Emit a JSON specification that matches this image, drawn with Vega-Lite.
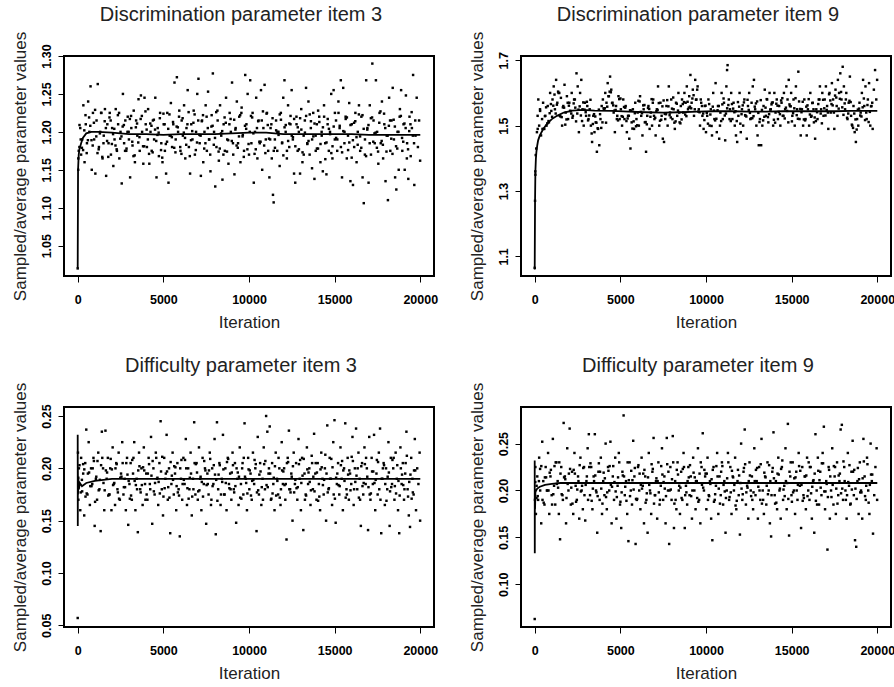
{
"$schema": "https://vega.github.io/schema/vega-lite/v6.json",
"padding": {"left": 9, "top": 4, "right": 0, "bottom": 0},
"background": "white",
"datasets": {
"p1": [
{"x":0,"y":1.02},{"x":30,"y":1.15},{"x":60,"y":1.175},{"x":100,"y":1.18},{"x":150,"y":1.205},{"x":200,"y":1.17},{"x":260,"y":1.19},{"x":330,"y":1.235},{"x":400,"y":1.16},{"x":470,"y":1.21},{"x":540,"y":1.185},{"x":610,"y":1.24},{"x":680,"y":1.2},{"x":750,"y":1.26},{"x":820,"y":1.15},{"x":890,"y":1.225},{"x":960,"y":1.19},
{"x":1030,"y":1.145},{"x":1100,"y":1.215},{"x":1170,"y":1.263},{"x":1240,"y":1.18},{"x":1310,"y":1.2},{"x":1380,"y":1.225},{"x":1450,"y":1.165},{"x":1520,"y":1.195},{"x":1590,"y":1.23},{"x":1660,"y":1.142},{"x":1730,"y":1.21},{"x":1800,"y":1.185},{"x":1870,"y":1.225},{"x":1940,"y":1.17},
{"x":2010,"y":1.205},{"x":2080,"y":1.155},{"x":2150,"y":1.19},{"x":2220,"y":1.23},{"x":2290,"y":1.175},{"x":2360,"y":1.21},{"x":2430,"y":1.165},{"x":2500,"y":1.2},{"x":2570,"y":1.132},{"x":2640,"y":1.25},{"x":2710,"y":1.185},{"x":2780,"y":1.215},{"x":2850,"y":1.178},{"x":2920,"y":1.22},{"x":2990,"y":1.19},
{"x":3060,"y":1.14},{"x":3130,"y":1.205},{"x":3200,"y":1.182},{"x":3270,"y":1.228},{"x":3340,"y":1.16},{"x":3410,"y":1.215},{"x":3480,"y":1.195},{"x":3550,"y":1.243},{"x":3620,"y":1.175},{"x":3690,"y":1.248},{"x":3760,"y":1.2},{"x":3830,"y":1.158},{"x":3900,"y":1.245},{"x":3970,"y":1.21},
{"x":4040,"y":1.18},{"x":4110,"y":1.23},{"x":4180,"y":1.158},{"x":4250,"y":1.2},{"x":4320,"y":1.175},{"x":4390,"y":1.215},{"x":4460,"y":1.19},{"x":4530,"y":1.245},{"x":4600,"y":1.14},{"x":4670,"y":1.205},{"x":4740,"y":1.168},{"x":4810,"y":1.225},{"x":4880,"y":1.185},{"x":4950,"y":1.16},
{"x":5020,"y":1.21},{"x":5090,"y":1.175},{"x":5160,"y":1.145},{"x":5230,"y":1.225},{"x":5300,"y":1.133},{"x":5370,"y":1.195},{"x":5440,"y":1.238},{"x":5510,"y":1.18},{"x":5580,"y":1.21},{"x":5650,"y":1.265},{"x":5720,"y":1.19},{"x":5790,"y":1.272},{"x":5860,"y":1.2},{"x":5930,"y":1.228},
{"x":6000,"y":1.175},{"x":6070,"y":1.215},{"x":6140,"y":1.195},{"x":6210,"y":1.235},{"x":6280,"y":1.165},{"x":6350,"y":1.205},{"x":6420,"y":1.255},{"x":6490,"y":1.18},{"x":6560,"y":1.145},{"x":6630,"y":1.21},{"x":6700,"y":1.19},{"x":6770,"y":1.228},{"x":6840,"y":1.17},{"x":6910,"y":1.2},{"x":6980,"y":1.25},
{"x":7050,"y":1.27},{"x":7120,"y":1.185},{"x":7190,"y":1.142},{"x":7260,"y":1.215},{"x":7330,"y":1.16},{"x":7400,"y":1.2},{"x":7470,"y":1.235},{"x":7540,"y":1.175},{"x":7610,"y":1.253},{"x":7680,"y":1.19},{"x":7750,"y":1.148},{"x":7820,"y":1.222},{"x":7890,"y":1.277},{"x":7960,"y":1.2},
{"x":8030,"y":1.128},{"x":8100,"y":1.18},{"x":8170,"y":1.215},{"x":8240,"y":1.162},{"x":8310,"y":1.235},{"x":8380,"y":1.195},{"x":8450,"y":1.137},{"x":8520,"y":1.21},{"x":8590,"y":1.175},{"x":8660,"y":1.245},{"x":8730,"y":1.19},{"x":8800,"y":1.158},{"x":8870,"y":1.225},{"x":8940,"y":1.2},
{"x":9010,"y":1.265},{"x":9080,"y":1.17},{"x":9150,"y":1.144},{"x":9220,"y":1.205},{"x":9290,"y":1.24},{"x":9360,"y":1.185},{"x":9430,"y":1.22},{"x":9500,"y":1.16},{"x":9570,"y":1.232},{"x":9640,"y":1.196},{"x":9710,"y":1.175},{"x":9780,"y":1.275},{"x":9850,"y":1.21},{"x":9920,"y":1.25},
{"x":10000,"y":1.17},{"x":10070,"y":1.268},{"x":10140,"y":1.185},{"x":10210,"y":1.225},{"x":10280,"y":1.133},{"x":10350,"y":1.2},{"x":10420,"y":1.245},{"x":10490,"y":1.165},{"x":10560,"y":1.215},{"x":10630,"y":1.185},{"x":10700,"y":1.255},{"x":10770,"y":1.15},{"x":10840,"y":1.205},{"x":10910,"y":1.262},{"x":10980,"y":1.19},
{"x":11050,"y":1.225},{"x":11120,"y":1.175},{"x":11190,"y":1.14},{"x":11260,"y":1.205},{"x":11330,"y":1.165},{"x":11400,"y":1.117},{"x":11440,"y":1.107},{"x":11510,"y":1.19},{"x":11580,"y":1.215},{"x":11650,"y":1.175},{"x":11720,"y":1.2},{"x":11790,"y":1.155},{"x":11860,"y":1.225},{"x":11930,"y":1.185},
{"x":12000,"y":1.245},{"x":12070,"y":1.268},{"x":12140,"y":1.2},{"x":12210,"y":1.165},{"x":12280,"y":1.235},{"x":12350,"y":1.18},{"x":12420,"y":1.21},{"x":12490,"y":1.255},{"x":12560,"y":1.19},{"x":12630,"y":1.145},{"x":12700,"y":1.133},{"x":12770,"y":1.22},{"x":12840,"y":1.175},{"x":12910,"y":1.2},{"x":12980,"y":1.145},
{"x":13050,"y":1.23},{"x":13120,"y":1.16},{"x":13190,"y":1.195},{"x":13260,"y":1.215},{"x":13330,"y":1.258},{"x":13400,"y":1.185},{"x":13470,"y":1.24},{"x":13540,"y":1.17},{"x":13610,"y":1.205},{"x":13680,"y":1.152},{"x":13750,"y":1.225},{"x":13820,"y":1.138},{"x":13890,"y":1.195},{"x":13960,"y":1.21},
{"x":14030,"y":1.178},{"x":14100,"y":1.22},{"x":14170,"y":1.16},{"x":14240,"y":1.2},{"x":14310,"y":1.148},{"x":14380,"y":1.235},{"x":14450,"y":1.185},{"x":14520,"y":1.144},{"x":14590,"y":1.21},{"x":14660,"y":1.175},{"x":14730,"y":1.2},{"x":14800,"y":1.25},{"x":14870,"y":1.165},{"x":14940,"y":1.255},
{"x":15010,"y":1.19},{"x":15080,"y":1.215},{"x":15150,"y":1.175},{"x":15220,"y":1.24},{"x":15290,"y":1.205},{"x":15360,"y":1.268},{"x":15430,"y":1.14},{"x":15500,"y":1.258},{"x":15570,"y":1.185},{"x":15640,"y":1.22},{"x":15710,"y":1.165},{"x":15780,"y":1.195},{"x":15850,"y":1.238},{"x":15920,"y":1.135},
{"x":16000,"y":1.21},{"x":16070,"y":1.13},{"x":16140,"y":1.18},{"x":16210,"y":1.225},{"x":16280,"y":1.16},{"x":16350,"y":1.2},{"x":16420,"y":1.235},{"x":16490,"y":1.175},{"x":16560,"y":1.22},{"x":16630,"y":1.14},{"x":16700,"y":1.106},{"x":16770,"y":1.19},{"x":16840,"y":1.268},{"x":16910,"y":1.205},{"x":16980,"y":1.133},
{"x":17050,"y":1.235},{"x":17120,"y":1.17},{"x":17200,"y":1.29},{"x":17270,"y":1.215},{"x":17340,"y":1.185},{"x":17410,"y":1.268},{"x":17480,"y":1.2},{"x":17550,"y":1.158},{"x":17620,"y":1.225},{"x":17690,"y":1.185},{"x":17760,"y":1.24},{"x":17830,"y":1.165},{"x":17900,"y":1.21},{"x":17970,"y":1.135},
{"x":18040,"y":1.195},{"x":18110,"y":1.11},{"x":18180,"y":1.245},{"x":18250,"y":1.175},{"x":18320,"y":1.215},{"x":18390,"y":1.258},{"x":18460,"y":1.19},{"x":18530,"y":1.14},{"x":18600,"y":1.124},{"x":18670,"y":1.2},{"x":18740,"y":1.15},{"x":18810,"y":1.23},{"x":18880,"y":1.255},{"x":18950,"y":1.175},
{"x":19020,"y":1.21},{"x":19090,"y":1.15},{"x":19160,"y":1.248},{"x":19230,"y":1.185},{"x":19300,"y":1.138},{"x":19370,"y":1.22},{"x":19440,"y":1.168},{"x":19510,"y":1.205},{"x":19580,"y":1.275},{"x":19650,"y":1.13},{"x":19720,"y":1.195},{"x":19790,"y":1.245},{"x":19860,"y":1.18},{"x":19930,"y":1.215},{"x":19990,"y":1.162},
{"x":105,"y":1.209},{"x":245,"y":1.179},{"x":385,"y":1.202},{"x":525,"y":1.172},{"x":665,"y":1.219},{"x":805,"y":1.189},{"x":945,"y":1.212},{"x":1085,"y":1.194},{"x":1225,"y":1.177},{"x":1365,"y":1.225},{"x":1505,"y":1.185},{"x":1645,"y":1.205},{"x":1785,"y":1.167},{"x":1925,"y":1.215},{"x":2065,"y":1.197},{"x":2205,"y":1.182},{"x":2345,"y":1.222},{"x":2485,"y":1.191},{"x":2625,"y":1.207},{"x":2765,"y":1.175},{"x":2905,"y":1.2},{"x":3045,"y":1.217},{"x":3185,"y":1.187},{"x":3325,"y":1.169},{"x":3465,"y":1.211},{"x":3605,"y":1.193},{"x":3745,"y":1.221},{"x":3885,"y":1.181},{"x":4025,"y":1.203},{"x":4165,"y":1.171},{"x":4305,"y":1.208},{"x":4445,"y":1.216},{"x":4585,"y":1.188},{"x":4725,"y":1.199},{"x":4865,"y":1.176},{"x":5005,"y":1.224},{"x":5145,"y":1.184},{"x":5285,"y":1.204},{"x":5425,"y":1.195},{"x":5565,"y":1.213},{"x":5705,"y":1.173},{"x":5845,"y":1.206},{"x":5985,"y":1.18},{"x":6125,"y":1.218},{"x":6265,"y":1.192},{"x":6405,"y":1.21},{"x":6545,"y":1.168},{"x":6685,"y":1.201},{"x":6825,"y":1.223},{"x":6965,"y":1.186},{"x":7105,"y":1.196},{"x":7245,"y":1.214},{"x":7385,"y":1.178},{"x":7525,"y":1.22},{"x":7665,"y":1.19},{"x":7805,"y":1.207},{"x":7945,"y":1.183},{"x":8085,"y":1.226},{"x":8225,"y":1.174},{"x":8365,"y":1.198},{"x":8505,"y":1.17},{"x":8645,"y":1.212},{"x":8785,"y":1.189},{"x":8925,"y":1.217},{"x":9065,"y":1.185},{"x":9205,"y":1.203},{"x":9345,"y":1.179},{"x":9485,"y":1.222},{"x":9625,"y":1.194},{"x":9765,"y":1.208},{"x":9905,"y":1.177},{"x":10045,"y":1.2},{"x":10185,"y":1.219},{"x":10325,"y":1.171},{"x":10465,"y":1.205},{"x":10605,"y":1.187},{"x":10745,"y":1.215},{"x":10885,"y":1.182},{"x":11025,"y":1.224},{"x":11165,"y":1.191},{"x":11305,"y":1.21},{"x":11445,"y":1.175},{"x":11585,"y":1.202},{"x":11725,"y":1.196},{"x":11865,"y":1.216},{"x":12005,"y":1.169},{"x":12145,"y":1.209},{"x":12285,"y":1.188},{"x":12425,"y":1.221},{"x":12565,"y":1.193},{"x":12705,"y":1.181},{"x":12845,"y":1.206},{"x":12985,"y":1.218},{"x":13125,"y":1.173},{"x":13265,"y":1.199},{"x":13405,"y":1.184},{"x":13545,"y":1.223},{"x":13685,"y":1.19},{"x":13825,"y":1.211},{"x":13965,"y":1.178},{"x":14105,"y":1.213},{"x":14245,"y":1.195},{"x":14385,"y":1.22},{"x":14525,"y":1.186},{"x":14665,"y":1.204},{"x":14805,"y":1.172},{"x":14945,"y":1.207},{"x":15085,"y":1.192},{"x":15225,"y":1.225},{"x":15365,"y":1.18},{"x":15505,"y":1.201},{"x":15645,"y":1.217},{"x":15785,"y":1.176},{"x":15925,"y":1.209},{"x":16065,"y":1.189},{"x":16205,"y":1.214},{"x":16345,"y":1.183},{"x":16485,"y":1.194},{"x":16625,"y":1.222},{"x":16765,"y":1.17},{"x":16905,"y":1.203},{"x":17045,"y":1.185},{"x":17185,"y":1.219},{"x":17325,"y":1.198},{"x":17465,"y":1.179},{"x":17605,"y":1.212},{"x":17745,"y":1.188},{"x":17885,"y":1.224},{"x":18025,"y":1.174},{"x":18165,"y":1.208},{"x":18305,"y":1.191},{"x":18445,"y":1.216},{"x":18585,"y":1.181},{"x":18725,"y":1.2},{"x":18865,"y":1.221},{"x":19005,"y":1.187},{"x":19145,"y":1.205},{"x":19285,"y":1.177},{"x":19425,"y":1.21},{"x":19565,"y":1.195},{"x":19705,"y":1.215},
{"x":35,"y":1.165},{"x":175,"y":1.19},{"x":315,"y":1.176},{"x":455,"y":1.222},{"x":595,"y":1.189},{"x":735,"y":1.208},{"x":875,"y":1.182},{"x":1015,"y":1.229},{"x":1155,"y":1.172},{"x":1295,"y":1.198},{"x":1435,"y":1.167},{"x":1575,"y":1.214},{"x":1715,"y":1.188},{"x":1855,"y":1.219},{"x":1995,"y":1.184},{"x":2135,"y":1.204},{"x":2275,"y":1.177},{"x":2415,"y":1.225},{"x":2555,"y":1.194},{"x":2695,"y":1.209},{"x":2835,"y":1.175},{"x":2975,"y":1.2},{"x":3115,"y":1.221},{"x":3255,"y":1.168},{"x":3395,"y":1.206},{"x":3535,"y":1.186},{"x":3675,"y":1.217},{"x":3815,"y":1.181},{"x":3955,"y":1.227},{"x":4095,"y":1.19},{"x":4235,"y":1.211},{"x":4375,"y":1.173},{"x":4515,"y":1.203},{"x":4655,"y":1.196},{"x":4795,"y":1.218},{"x":4935,"y":1.166},{"x":5075,"y":1.21},{"x":5215,"y":1.187},{"x":5355,"y":1.223},{"x":5495,"y":1.193},{"x":5635,"y":1.179},{"x":5775,"y":1.207},{"x":5915,"y":1.22},{"x":6055,"y":1.171},{"x":6195,"y":1.199},{"x":6335,"y":1.183},{"x":6475,"y":1.226},{"x":6615,"y":1.189},{"x":6755,"y":1.212},{"x":6895,"y":1.176},{"x":7035,"y":1.215},{"x":7175,"y":1.195},{"x":7315,"y":1.222},{"x":7455,"y":1.185},{"x":7595,"y":1.205},{"x":7735,"y":1.17},{"x":7875,"y":1.208},{"x":8015,"y":1.192},{"x":8155,"y":1.228},{"x":8295,"y":1.178},{"x":8435,"y":1.201},{"x":8575,"y":1.219},{"x":8715,"y":1.174},{"x":8855,"y":1.21},{"x":8995,"y":1.188},{"x":9135,"y":1.216},{"x":9275,"y":1.182},{"x":9415,"y":1.194},{"x":9555,"y":1.225},{"x":9695,"y":1.167},{"x":9835,"y":1.204},{"x":9975,"y":1.184},{"x":10115,"y":1.221},{"x":10255,"y":1.198},{"x":10395,"y":1.177},{"x":10535,"y":1.214},{"x":10675,"y":1.187},{"x":10815,"y":1.227},{"x":10955,"y":1.172},{"x":11095,"y":1.209},{"x":11235,"y":1.19},{"x":11375,"y":1.218},{"x":11515,"y":1.179},{"x":11655,"y":1.2},{"x":11795,"y":1.223},{"x":11935,"y":1.186},{"x":12075,"y":1.206},{"x":12215,"y":1.175},{"x":12355,"y":1.211},{"x":12495,"y":1.195},{"x":12635,"y":1.217},{"x":12775,"y":1.21},{"x":12915,"y":1.177},{"x":13055,"y":1.203},{"x":13195,"y":1.17},{"x":13335,"y":1.221},{"x":13475,"y":1.188},{"x":13615,"y":1.214},{"x":13755,"y":1.194},{"x":13895,"y":1.175},{"x":14035,"y":1.228},{"x":14175,"y":1.184},{"x":14315,"y":1.206},{"x":14455,"y":1.164},{"x":14595,"y":1.217},{"x":14735,"y":1.197},{"x":14875,"y":1.181},{"x":15015,"y":1.225},{"x":15155,"y":1.19},{"x":15295,"y":1.208},{"x":15435,"y":1.173},{"x":15575,"y":1.2},{"x":15715,"y":1.219},{"x":15855,"y":1.186},{"x":15995,"y":1.166},{"x":16135,"y":1.212},{"x":16275,"y":1.193},{"x":16415,"y":1.223},{"x":16555,"y":1.179},{"x":16695,"y":1.204},{"x":16835,"y":1.168},{"x":16975,"y":1.209},{"x":17115,"y":1.218},{"x":17255,"y":1.187},{"x":17395,"y":1.199},{"x":17535,"y":1.174},{"x":17675,"y":1.227},{"x":17815,"y":1.183},{"x":17955,"y":1.205},{"x":18095,"y":1.195},{"x":18235,"y":1.215},{"x":18375,"y":1.171},{"x":18515,"y":1.207},{"x":18655,"y":1.178},{"x":18795,"y":1.22},{"x":18935,"y":1.192},{"x":19075,"y":1.211},{"x":19215,"y":1.165},{"x":19355,"y":1.201},{"x":19495,"y":1.226},{"x":19635,"y":1.185}
],
"p2": [
{"x":0,"y":1.065},{"x":20,"y":1.27},{"x":40,"y":1.35},{"x":60,"y":1.41},{"x":90,"y":1.43},{"x":130,"y":1.48},{"x":170,"y":1.53},{"x":210,"y":1.58},{"x":260,"y":1.5},{"x":310,"y":1.55},{"x":370,"y":1.47},{"x":430,"y":1.52},{"x":490,"y":1.57},{"x":560,"y":1.49},{"x":620,"y":1.53},{"x":690,"y":1.5},{"x":760,"y":1.56},{"x":830,"y":1.51},{"x":900,"y":1.6},{"x":970,"y":1.545},
{"x":1040,"y":1.58},{"x":1110,"y":1.62},{"x":1180,"y":1.55},{"x":1250,"y":1.64},{"x":1320,"y":1.57},{"x":1390,"y":1.6},{"x":1460,"y":1.53},{"x":1530,"y":1.585},{"x":1600,"y":1.5},{"x":1670,"y":1.56},{"x":1740,"y":1.625},{"x":1810,"y":1.54},{"x":1880,"y":1.59},{"x":1950,"y":1.52},
{"x":2020,"y":1.57},{"x":2090,"y":1.545},{"x":2160,"y":1.6},{"x":2230,"y":1.53},{"x":2300,"y":1.58},{"x":2370,"y":1.555},{"x":2440,"y":1.66},{"x":2510,"y":1.62},{"x":2580,"y":1.48},{"x":2650,"y":1.6},{"x":2720,"y":1.64},{"x":2790,"y":1.55},{"x":2860,"y":1.5},{"x":2930,"y":1.57},
{"x":3000,"y":1.53},{"x":3070,"y":1.56},{"x":3140,"y":1.52},{"x":3210,"y":1.55},{"x":3280,"y":1.5},{"x":3350,"y":1.45},{"x":3420,"y":1.53},{"x":3490,"y":1.48},{"x":3560,"y":1.51},{"x":3630,"y":1.42},{"x":3700,"y":1.49},{"x":3770,"y":1.44},{"x":3840,"y":1.52},{"x":3910,"y":1.56},
{"x":3980,"y":1.58},{"x":4050,"y":1.55},{"x":4120,"y":1.6},{"x":4190,"y":1.57},{"x":4260,"y":1.63},{"x":4330,"y":1.59},{"x":4400,"y":1.65},{"x":4470,"y":1.61},{"x":4540,"y":1.57},{"x":4610,"y":1.54},{"x":4680,"y":1.48},{"x":4750,"y":1.56},{"x":4820,"y":1.53},{"x":4890,"y":1.59},
{"x":4960,"y":1.52},{"x":5030,"y":1.55},{"x":5100,"y":1.5},{"x":5170,"y":1.58},{"x":5240,"y":1.52},{"x":5310,"y":1.56},{"x":5380,"y":1.48},{"x":5450,"y":1.53},{"x":5520,"y":1.46},{"x":5590,"y":1.43},{"x":5660,"y":1.51},{"x":5730,"y":1.55},{"x":5800,"y":1.49},{"x":5870,"y":1.57},
{"x":5940,"y":1.52},{"x":6010,"y":1.54},{"x":6080,"y":1.5},{"x":6150,"y":1.59},{"x":6220,"y":1.53},{"x":6290,"y":1.47},{"x":6360,"y":1.55},{"x":6430,"y":1.51},{"x":6500,"y":1.42},{"x":6570,"y":1.53},{"x":6640,"y":1.56},{"x":6710,"y":1.49},{"x":6780,"y":1.54},{"x":6850,"y":1.5},
{"x":6920,"y":1.58},{"x":6990,"y":1.52},{"x":7060,"y":1.47},{"x":7130,"y":1.55},{"x":7200,"y":1.62},{"x":7270,"y":1.5},{"x":7340,"y":1.57},{"x":7410,"y":1.53},{"x":7480,"y":1.46},{"x":7550,"y":1.45},{"x":7620,"y":1.52},{"x":7690,"y":1.56},{"x":7760,"y":1.5},{"x":7830,"y":1.62},
{"x":7900,"y":1.54},{"x":7970,"y":1.58},{"x":8040,"y":1.52},{"x":8110,"y":1.55},{"x":8180,"y":1.49},{"x":8250,"y":1.57},{"x":8320,"y":1.53},{"x":8390,"y":1.6},{"x":8460,"y":1.51},{"x":8530,"y":1.56},{"x":8600,"y":1.58},{"x":8670,"y":1.54},{"x":8740,"y":1.6},{"x":8810,"y":1.57},
{"x":8880,"y":1.62},{"x":8950,"y":1.55},{"x":9020,"y":1.59},{"x":9090,"y":1.655},{"x":9160,"y":1.57},{"x":9230,"y":1.61},{"x":9300,"y":1.53},{"x":9370,"y":1.64},{"x":9440,"y":1.58},{"x":9510,"y":1.62},{"x":9580,"y":1.55},{"x":9650,"y":1.5},{"x":9720,"y":1.57},{"x":9790,"y":1.53},
{"x":9860,"y":1.49},{"x":9930,"y":1.56},{"x":10000,"y":1.48},{"x":10070,"y":1.53},{"x":10140,"y":1.58},{"x":10210,"y":1.5},{"x":10280,"y":1.55},{"x":10350,"y":1.47},{"x":10420,"y":1.6},{"x":10490,"y":1.52},{"x":10560,"y":1.63},{"x":10630,"y":1.48},{"x":10700,"y":1.56},{"x":10770,"y":1.46},
{"x":10840,"y":1.54},{"x":10910,"y":1.6},{"x":10980,"y":1.52},{"x":11050,"y":1.57},{"x":11120,"y":1.455},{"x":11190,"y":1.62},{"x":11230,"y":1.67},{"x":11260,"y":1.685},{"x":11330,"y":1.58},{"x":11400,"y":1.55},{"x":11470,"y":1.6},{"x":11540,"y":1.52},{"x":11610,"y":1.57},{"x":11680,"y":1.5},
{"x":11750,"y":1.47},{"x":11820,"y":1.45},{"x":11890,"y":1.53},{"x":11960,"y":1.6},{"x":12030,"y":1.48},{"x":12100,"y":1.55},{"x":12170,"y":1.5},{"x":12240,"y":1.58},{"x":12310,"y":1.53},{"x":12380,"y":1.46},{"x":12450,"y":1.56},{"x":12520,"y":1.6},{"x":12590,"y":1.52},{"x":12660,"y":1.57},
{"x":12730,"y":1.62},{"x":12800,"y":1.64},{"x":12870,"y":1.55},{"x":12940,"y":1.5},{"x":13010,"y":1.47},{"x":13080,"y":1.44},{"x":13150,"y":1.52},{"x":13220,"y":1.44},{"x":13290,"y":1.5},{"x":13360,"y":1.56},{"x":13430,"y":1.61},{"x":13500,"y":1.53},{"x":13570,"y":1.58},{"x":13640,"y":1.51},
{"x":13710,"y":1.6},{"x":13780,"y":1.55},{"x":13850,"y":1.57},{"x":13920,"y":1.5},{"x":13990,"y":1.6},{"x":14060,"y":1.54},{"x":14130,"y":1.58},{"x":14200,"y":1.52},{"x":14270,"y":1.56},{"x":14340,"y":1.5},{"x":14410,"y":1.57},{"x":14480,"y":1.53},{"x":14550,"y":1.6},{"x":14620,"y":1.55},
{"x":14690,"y":1.62},{"x":14760,"y":1.58},{"x":14830,"y":1.64},{"x":14900,"y":1.56},{"x":14970,"y":1.6},{"x":15040,"y":1.53},{"x":15110,"y":1.58},{"x":15180,"y":1.5},{"x":15250,"y":1.62},{"x":15320,"y":1.55},{"x":15390,"y":1.665},{"x":15460,"y":1.52},{"x":15530,"y":1.47},{"x":15600,"y":1.55},
{"x":15670,"y":1.5},{"x":15740,"y":1.58},{"x":15810,"y":1.52},{"x":15880,"y":1.47},{"x":15950,"y":1.55},{"x":16020,"y":1.5},{"x":16090,"y":1.6},{"x":16160,"y":1.53},{"x":16230,"y":1.57},{"x":16300,"y":1.51},{"x":16370,"y":1.46},{"x":16440,"y":1.55},{"x":16510,"y":1.52},{"x":16580,"y":1.58},
{"x":16650,"y":1.62},{"x":16720,"y":1.55},{"x":16790,"y":1.6},{"x":16860,"y":1.53},{"x":16930,"y":1.58},{"x":17000,"y":1.62},{"x":17070,"y":1.56},{"x":17140,"y":1.49},{"x":17210,"y":1.6},{"x":17280,"y":1.54},{"x":17350,"y":1.63},{"x":17420,"y":1.58},{"x":17490,"y":1.49},{"x":17560,"y":1.61},
{"x":17630,"y":1.56},{"x":17700,"y":1.64},{"x":17770,"y":1.6},{"x":17840,"y":1.66},{"x":17910,"y":1.58},{"x":17980,"y":1.68},{"x":18050,"y":1.62},{"x":18120,"y":1.55},{"x":18190,"y":1.6},{"x":18260,"y":1.52},{"x":18330,"y":1.57},{"x":18400,"y":1.65},{"x":18470,"y":1.53},{"x":18540,"y":1.5},
{"x":18610,"y":1.56},{"x":18680,"y":1.48},{"x":18750,"y":1.45},{"x":18820,"y":1.52},{"x":18890,"y":1.5},{"x":18960,"y":1.57},{"x":19030,"y":1.54},{"x":19100,"y":1.6},{"x":19170,"y":1.64},{"x":19240,"y":1.56},{"x":19310,"y":1.62},{"x":19380,"y":1.52},{"x":19450,"y":1.58},{"x":19520,"y":1.63},
{"x":19590,"y":1.5},{"x":19660,"y":1.56},{"x":19730,"y":1.49},{"x":19800,"y":1.61},{"x":19870,"y":1.67},{"x":19940,"y":1.58},{"x":19990,"y":1.64},
{"x":525,"y":1.49},{"x":665,"y":1.556},{"x":805,"y":1.514},{"x":945,"y":1.566},{"x":1085,"y":1.561},{"x":1225,"y":1.537},{"x":1365,"y":1.604},{"x":1505,"y":1.528},{"x":1645,"y":1.556},{"x":1785,"y":1.503},{"x":1925,"y":1.57},{"x":2065,"y":1.545},{"x":2205,"y":1.524},{"x":2345,"y":1.58},{"x":2485,"y":1.537},{"x":2625,"y":1.559},{"x":2765,"y":1.514},{"x":2905,"y":1.549},{"x":3045,"y":1.573},{"x":3185,"y":1.531},{"x":3325,"y":1.476},{"x":3465,"y":1.535},{"x":3605,"y":1.509},{"x":3745,"y":1.549},{"x":3885,"y":1.493},{"x":4025,"y":1.553},{"x":4165,"y":1.509},{"x":4305,"y":1.59},{"x":4445,"y":1.602},{"x":4585,"y":1.562},{"x":4725,"y":1.548},{"x":4865,"y":1.516},{"x":5005,"y":1.583},{"x":5145,"y":1.527},{"x":5285,"y":1.555},{"x":5425,"y":1.522},{"x":5565,"y":1.547},{"x":5705,"y":1.491},{"x":5845,"y":1.538},{"x":5985,"y":1.501},{"x":6125,"y":1.574},{"x":6265,"y":1.538},{"x":6405,"y":1.563},{"x":6545,"y":1.504},{"x":6685,"y":1.551},{"x":6825,"y":1.581},{"x":6965,"y":1.53},{"x":7105,"y":1.544},{"x":7245,"y":1.569},{"x":7385,"y":1.518},{"x":7525,"y":1.577},{"x":7665,"y":1.535},{"x":7805,"y":1.559},{"x":7945,"y":1.525},{"x":8085,"y":1.586},{"x":8225,"y":1.513},{"x":8365,"y":1.546},{"x":8505,"y":1.507},{"x":8645,"y":1.566},{"x":8785,"y":1.534},{"x":8925,"y":1.573},{"x":9065,"y":1.558},{"x":9205,"y":1.583},{"x":9345,"y":1.55},{"x":9485,"y":1.61},{"x":9625,"y":1.541},{"x":9765,"y":1.56},{"x":9905,"y":1.517},{"x":10045,"y":1.539},{"x":10185,"y":1.566},{"x":10325,"y":1.499},{"x":10465,"y":1.546},{"x":10605,"y":1.521},{"x":10745,"y":1.56},{"x":10885,"y":1.514},{"x":11025,"y":1.583},{"x":11165,"y":1.537},{"x":11305,"y":1.563},{"x":11445,"y":1.514},{"x":11585,"y":1.552},{"x":11725,"y":1.544},{"x":11865,"y":1.572},{"x":12005,"y":1.506},{"x":12145,"y":1.562},{"x":12285,"y":1.532},{"x":12425,"y":1.579},{"x":12565,"y":1.539},{"x":12705,"y":1.523},{"x":12845,"y":1.558},{"x":12985,"y":1.574},{"x":13125,"y":1.511},{"x":13265,"y":1.548},{"x":13405,"y":1.527},{"x":13545,"y":1.581},{"x":13685,"y":1.535},{"x":13825,"y":1.565},{"x":13965,"y":1.518},{"x":14105,"y":1.567},{"x":14245,"y":1.542},{"x":14385,"y":1.577},{"x":14525,"y":1.53},{"x":14665,"y":1.555},{"x":14805,"y":1.51},{"x":14945,"y":1.559},{"x":15085,"y":1.538},{"x":15225,"y":1.584},{"x":15365,"y":1.521},{"x":15505,"y":1.551},{"x":15645,"y":1.573},{"x":15785,"y":1.516},{"x":15925,"y":1.562},{"x":16065,"y":1.534},{"x":16205,"y":1.569},{"x":16345,"y":1.525},{"x":16485,"y":1.541},{"x":16625,"y":1.58},{"x":16765,"y":1.507},{"x":16905,"y":1.553},{"x":17045,"y":1.548},{"x":17185,"y":1.596},{"x":17325,"y":1.566},{"x":17465,"y":1.54},{"x":17605,"y":1.586},{"x":17745,"y":1.552},{"x":17885,"y":1.603},{"x":18025,"y":1.533},{"x":18165,"y":1.58},{"x":18305,"y":1.537},{"x":18445,"y":1.572},{"x":18585,"y":1.493},{"x":18725,"y":1.519},{"x":18865,"y":1.549},{"x":19005,"y":1.531},{"x":19145,"y":1.556},{"x":19285,"y":1.517},{"x":19425,"y":1.563},{"x":19565,"y":1.542},{"x":19705,"y":1.57},
{"x":35,"y":1.36},{"x":175,"y":1.49},{"x":315,"y":1.545},{"x":455,"y":1.49},{"x":595,"y":1.529},{"x":735,"y":1.507},{"x":875,"y":1.538},{"x":1015,"y":1.527},{"x":1155,"y":1.595},{"x":1295,"y":1.564},{"x":1435,"y":1.6},{"x":1575,"y":1.526},{"x":1715,"y":1.555},{"x":1855,"y":1.519},{"x":1995,"y":1.561},{"x":2135,"y":1.537},{"x":2275,"y":1.568},{"x":2415,"y":1.513},{"x":2555,"y":1.549},{"x":2695,"y":1.531},{"x":2835,"y":1.571},{"x":2975,"y":1.541},{"x":3115,"y":1.516},{"x":3255,"y":1.579},{"x":3395,"y":1.505},{"x":3535,"y":1.528},{"x":3675,"y":1.492},{"x":3815,"y":1.535},{"x":3955,"y":1.51},{"x":4095,"y":1.553},{"x":4235,"y":1.558},{"x":4375,"y":1.604},{"x":4515,"y":1.569},{"x":4655,"y":1.546},{"x":4795,"y":1.52},{"x":4935,"y":1.581},{"x":5075,"y":1.529},{"x":5215,"y":1.557},{"x":5355,"y":1.514},{"x":5495,"y":1.53},{"x":5635,"y":1.546},{"x":5775,"y":1.513},{"x":5915,"y":1.498},{"x":6055,"y":1.576},{"x":6195,"y":1.542},{"x":6335,"y":1.562},{"x":6475,"y":1.511},{"x":6615,"y":1.554},{"x":6755,"y":1.527},{"x":6895,"y":1.57},{"x":7035,"y":1.524},{"x":7175,"y":1.548},{"x":7315,"y":1.515},{"x":7455,"y":1.559},{"x":7595,"y":1.536},{"x":7735,"y":1.578},{"x":7875,"y":1.532},{"x":8015,"y":1.552},{"x":8155,"y":1.509},{"x":8295,"y":1.567},{"x":8435,"y":1.54},{"x":8575,"y":1.519},{"x":8715,"y":1.572},{"x":8855,"y":1.529},{"x":8995,"y":1.555},{"x":9135,"y":1.553},{"x":9275,"y":1.593},{"x":9415,"y":1.579},{"x":9555,"y":1.543},{"x":9695,"y":1.58},{"x":9835,"y":1.537},{"x":9975,"y":1.561},{"x":10115,"y":1.506},{"x":10255,"y":1.534},{"x":10395,"y":1.558},{"x":10535,"y":1.516},{"x":10675,"y":1.547},{"x":10815,"y":1.5},{"x":10955,"y":1.565},{"x":11095,"y":1.531},{"x":11235,"y":1.553},{"x":11375,"y":1.52},{"x":11515,"y":1.566},{"x":11655,"y":1.541},{"x":11795,"y":1.514},{"x":11935,"y":1.558},{"x":12075,"y":1.535},{"x":12215,"y":1.571},{"x":12355,"y":1.528},{"x":12495,"y":1.548},{"x":12635,"y":1.522},{"x":12775,"y":1.529},{"x":12915,"y":1.568},{"x":13055,"y":1.539},{"x":13195,"y":1.578},{"x":13335,"y":1.516},{"x":13475,"y":1.555},{"x":13615,"y":1.526},{"x":13755,"y":1.549},{"x":13895,"y":1.571},{"x":14035,"y":1.509},{"x":14175,"y":1.561},{"x":14315,"y":1.535},{"x":14455,"y":1.584},{"x":14595,"y":1.522},{"x":14735,"y":1.545},{"x":14875,"y":1.565},{"x":15015,"y":1.513},{"x":15155,"y":1.553},{"x":15295,"y":1.532},{"x":15435,"y":1.574},{"x":15575,"y":1.541},{"x":15715,"y":1.519},{"x":15855,"y":1.558},{"x":15995,"y":1.581},{"x":16135,"y":1.527},{"x":16275,"y":1.55},{"x":16415,"y":1.514},{"x":16555,"y":1.566},{"x":16695,"y":1.537},{"x":16835,"y":1.579},{"x":16975,"y":1.531},{"x":17115,"y":1.54},{"x":17255,"y":1.577},{"x":17395,"y":1.562},{"x":17535,"y":1.592},{"x":17675,"y":1.53},{"x":17815,"y":1.582},{"x":17955,"y":1.556},{"x":18095,"y":1.568},{"x":18235,"y":1.524},{"x":18375,"y":1.576},{"x":18515,"y":1.503},{"x":18655,"y":1.537},{"x":18795,"y":1.488},{"x":18935,"y":1.552},{"x":19075,"y":1.528},{"x":19215,"y":1.583},{"x":19355,"y":1.54},{"x":19495,"y":1.511},{"x":19635,"y":1.559}
],
"p3": [
{"x":0,"y":0.057},{"x":15,"y":0.215},{"x":40,"y":0.17},{"x":70,"y":0.2},{"x":110,"y":0.185},{"x":150,"y":0.16},{"x":200,"y":0.21},{"x":260,"y":0.178},{"x":320,"y":0.195},{"x":380,"y":0.155},{"x":440,"y":0.205},{"x":500,"y":0.237},{"x":570,"y":0.175},{"x":640,"y":0.225},{"x":710,"y":0.165},{"x":780,"y":0.2},{"x":850,"y":0.185},{"x":920,"y":0.21},{"x":990,"y":0.145},
{"x":1060,"y":0.19},{"x":1130,"y":0.17},{"x":1200,"y":0.215},{"x":1270,"y":0.18},{"x":1340,"y":0.14},{"x":1410,"y":0.235},{"x":1480,"y":0.2},{"x":1550,"y":0.16},{"x":1620,"y":0.236},{"x":1690,"y":0.19},{"x":1760,"y":0.21},{"x":1830,"y":0.175},{"x":1900,"y":0.2},{"x":1970,"y":0.16},
{"x":2040,"y":0.22},{"x":2110,"y":0.185},{"x":2180,"y":0.165},{"x":2250,"y":0.205},{"x":2320,"y":0.18},{"x":2390,"y":0.215},{"x":2460,"y":0.17},{"x":2530,"y":0.195},{"x":2600,"y":0.225},{"x":2670,"y":0.175},{"x":2740,"y":0.19},{"x":2810,"y":0.16},{"x":2880,"y":0.21},{"x":2950,"y":0.146},
{"x":3020,"y":0.185},{"x":3090,"y":0.205},{"x":3160,"y":0.17},{"x":3230,"y":0.195},{"x":3300,"y":0.225},{"x":3370,"y":0.16},{"x":3440,"y":0.19},{"x":3510,"y":0.139},{"x":3580,"y":0.215},{"x":3650,"y":0.18},{"x":3720,"y":0.2},{"x":3790,"y":0.165},{"x":3860,"y":0.22},{"x":3930,"y":0.185},
{"x":4000,"y":0.195},{"x":4070,"y":0.17},{"x":4140,"y":0.21},{"x":4210,"y":0.185},{"x":4280,"y":0.23},{"x":4350,"y":0.147},{"x":4420,"y":0.2},{"x":4490,"y":0.175},{"x":4560,"y":0.215},{"x":4630,"y":0.19},{"x":4700,"y":0.165},{"x":4770,"y":0.205},{"x":4840,"y":0.245},{"x":4910,"y":0.18},
{"x":4980,"y":0.155},{"x":5050,"y":0.21},{"x":5120,"y":0.19},{"x":5190,"y":0.232},{"x":5260,"y":0.17},{"x":5330,"y":0.2},{"x":5400,"y":0.138},{"x":5470,"y":0.185},{"x":5540,"y":0.215},{"x":5610,"y":0.175},{"x":5680,"y":0.195},{"x":5750,"y":0.16},{"x":5820,"y":0.205},{"x":5890,"y":0.18},
{"x":5960,"y":0.135},{"x":6030,"y":0.19},{"x":6100,"y":0.17},{"x":6170,"y":0.21},{"x":6240,"y":0.185},{"x":6310,"y":0.228},{"x":6380,"y":0.165},{"x":6450,"y":0.2},{"x":6520,"y":0.18},{"x":6590,"y":0.215},{"x":6660,"y":0.155},{"x":6730,"y":0.19},{"x":6800,"y":0.244},{"x":6870,"y":0.175},
{"x":6940,"y":0.205},{"x":7010,"y":0.17},{"x":7080,"y":0.22},{"x":7150,"y":0.19},{"x":7220,"y":0.16},{"x":7290,"y":0.21},{"x":7360,"y":0.185},{"x":7430,"y":0.2},{"x":7500,"y":0.147},{"x":7570,"y":0.195},{"x":7640,"y":0.175},{"x":7710,"y":0.215},{"x":7780,"y":0.165},{"x":7850,"y":0.2},
{"x":7920,"y":0.185},{"x":7990,"y":0.228},{"x":8060,"y":0.137},{"x":8130,"y":0.244},{"x":8200,"y":0.18},{"x":8270,"y":0.205},{"x":8340,"y":0.165},{"x":8410,"y":0.19},{"x":8480,"y":0.232},{"x":8550,"y":0.175},{"x":8620,"y":0.2},{"x":8690,"y":0.16},{"x":8760,"y":0.21},{"x":8830,"y":0.185},
{"x":8900,"y":0.195},{"x":8970,"y":0.17},{"x":9040,"y":0.215},{"x":9110,"y":0.18},{"x":9180,"y":0.205},{"x":9250,"y":0.148},{"x":9320,"y":0.19},{"x":9390,"y":0.165},{"x":9460,"y":0.22},{"x":9530,"y":0.185},{"x":9600,"y":0.2},{"x":9670,"y":0.175},{"x":9740,"y":0.243},{"x":9810,"y":0.19},
{"x":9880,"y":0.16},{"x":9950,"y":0.21},{"x":10020,"y":0.18},{"x":10090,"y":0.195},{"x":10160,"y":0.17},{"x":10230,"y":0.215},{"x":10300,"y":0.185},{"x":10370,"y":0.2},{"x":10440,"y":0.14},{"x":10510,"y":0.23},{"x":10580,"y":0.175},{"x":10650,"y":0.205},{"x":10720,"y":0.165},{"x":10790,"y":0.19},
{"x":10860,"y":0.22},{"x":10930,"y":0.18},{"x":11000,"y":0.25},{"x":11070,"y":0.235},{"x":11140,"y":0.195},{"x":11210,"y":0.24},{"x":11280,"y":0.17},{"x":11350,"y":0.205},{"x":11420,"y":0.185},{"x":11490,"y":0.16},{"x":11560,"y":0.215},{"x":11630,"y":0.19},{"x":11700,"y":0.175},{"x":11770,"y":0.2},
{"x":11840,"y":0.165},{"x":11910,"y":0.225},{"x":11980,"y":0.185},{"x":12050,"y":0.2},{"x":12120,"y":0.17},{"x":12190,"y":0.132},{"x":12260,"y":0.21},{"x":12330,"y":0.236},{"x":12400,"y":0.18},{"x":12470,"y":0.195},{"x":12540,"y":0.15},{"x":12610,"y":0.215},{"x":12680,"y":0.185},{"x":12750,"y":0.205},
{"x":12820,"y":0.17},{"x":12890,"y":0.228},{"x":12960,"y":0.19},{"x":13030,"y":0.16},{"x":13100,"y":0.21},{"x":13170,"y":0.141},{"x":13240,"y":0.195},{"x":13310,"y":0.175},{"x":13380,"y":0.22},{"x":13450,"y":0.185},{"x":13520,"y":0.2},{"x":13590,"y":0.165},{"x":13660,"y":0.212},{"x":13730,"y":0.18},
{"x":13800,"y":0.233},{"x":13870,"y":0.195},{"x":13940,"y":0.17},{"x":14010,"y":0.205},{"x":14080,"y":0.185},{"x":14150,"y":0.16},{"x":14220,"y":0.215},{"x":14290,"y":0.19},{"x":14360,"y":0.175},{"x":14430,"y":0.2},{"x":14500,"y":0.15},{"x":14570,"y":0.241},{"x":14640,"y":0.18},{"x":14710,"y":0.21},
{"x":14780,"y":0.19},{"x":14850,"y":0.165},{"x":14920,"y":0.225},{"x":14990,"y":0.246},{"x":15060,"y":0.148},{"x":15130,"y":0.185},{"x":15200,"y":0.205},{"x":15270,"y":0.175},{"x":15340,"y":0.22},{"x":15410,"y":0.19},{"x":15480,"y":0.16},{"x":15550,"y":0.2},{"x":15620,"y":0.243},{"x":15690,"y":0.18},
{"x":15760,"y":0.21},{"x":15830,"y":0.17},{"x":15900,"y":0.195},{"x":15970,"y":0.185},{"x":16040,"y":0.23},{"x":16110,"y":0.165},{"x":16180,"y":0.2},{"x":16250,"y":0.238},{"x":16320,"y":0.18},{"x":16390,"y":0.215},{"x":16460,"y":0.19},{"x":16530,"y":0.145},{"x":16600,"y":0.205},{"x":16670,"y":0.175},
{"x":16740,"y":0.22},{"x":16810,"y":0.185},{"x":16880,"y":0.2},{"x":16950,"y":0.141},{"x":17020,"y":0.23},{"x":17090,"y":0.17},{"x":17160,"y":0.21},{"x":17230,"y":0.185},{"x":17300,"y":0.232},{"x":17370,"y":0.16},{"x":17440,"y":0.195},{"x":17510,"y":0.175},{"x":17580,"y":0.215},{"x":17650,"y":0.238},
{"x":17720,"y":0.138},{"x":17790,"y":0.19},{"x":17860,"y":0.205},{"x":17930,"y":0.165},{"x":18000,"y":0.2},{"x":18070,"y":0.18},{"x":18140,"y":0.225},{"x":18210,"y":0.145},{"x":18280,"y":0.21},{"x":18350,"y":0.185},{"x":18420,"y":0.2},{"x":18490,"y":0.17},{"x":18560,"y":0.215},{"x":18630,"y":0.19},
{"x":18700,"y":0.16},{"x":18770,"y":0.138},{"x":18840,"y":0.22},{"x":18910,"y":0.185},{"x":18980,"y":0.205},{"x":19050,"y":0.17},{"x":19120,"y":0.195},{"x":19190,"y":0.235},{"x":19260,"y":0.18},{"x":19330,"y":0.155},{"x":19400,"y":0.144},{"x":19470,"y":0.21},{"x":19540,"y":0.19},{"x":19610,"y":0.175},
{"x":19680,"y":0.228},{"x":19750,"y":0.16},{"x":19820,"y":0.2},{"x":19890,"y":0.185},{"x":19960,"y":0.215},{"x":19990,"y":0.15},
{"x":105,"y":0.203},{"x":245,"y":0.189},{"x":385,"y":0.199},{"x":525,"y":0.176},{"x":665,"y":0.196},{"x":805,"y":0.183},{"x":945,"y":0.207},{"x":1085,"y":0.192},{"x":1225,"y":0.179},{"x":1365,"y":0.203},{"x":1505,"y":0.186},{"x":1645,"y":0.198},{"x":1785,"y":0.174},{"x":1925,"y":0.209},{"x":2065,"y":0.184},{"x":2205,"y":0.2},{"x":2345,"y":0.177},{"x":2485,"y":0.191},{"x":2625,"y":0.205},{"x":2765,"y":0.182},{"x":2905,"y":0.194},{"x":3045,"y":0.171},{"x":3185,"y":0.208},{"x":3325,"y":0.188},{"x":3465,"y":0.18},{"x":3605,"y":0.202},{"x":3745,"y":0.184},{"x":3885,"y":0.198},{"x":4025,"y":0.175},{"x":4165,"y":0.204},{"x":4305,"y":0.193},{"x":4445,"y":0.178},{"x":4585,"y":0.21},{"x":4725,"y":0.187},{"x":4865,"y":0.197},{"x":5005,"y":0.173},{"x":5145,"y":0.195},{"x":5285,"y":0.182},{"x":5425,"y":0.206},{"x":5565,"y":0.189},{"x":5705,"y":0.201},{"x":5845,"y":0.177},{"x":5985,"y":0.2},{"x":6125,"y":0.185},{"x":6265,"y":0.208},{"x":6405,"y":0.181},{"x":6545,"y":0.191},{"x":6685,"y":0.173},{"x":6825,"y":0.205},{"x":6965,"y":0.196},{"x":7105,"y":0.179},{"x":7245,"y":0.187},{"x":7385,"y":0.207},{"x":7525,"y":0.184},{"x":7665,"y":0.198},{"x":7805,"y":0.17},{"x":7945,"y":0.203},{"x":8085,"y":0.189},{"x":8225,"y":0.194},{"x":8365,"y":0.175},{"x":8505,"y":0.199},{"x":8645,"y":0.186},{"x":8785,"y":0.209},{"x":8925,"y":0.18},{"x":9065,"y":0.203},{"x":9205,"y":0.183},{"x":9345,"y":0.196},{"x":9485,"y":0.172},{"x":9625,"y":0.205},{"x":9765,"y":0.192},{"x":9905,"y":0.176},{"x":10045,"y":0.198},{"x":10185,"y":0.188},{"x":10325,"y":0.208},{"x":10465,"y":0.177},{"x":10605,"y":0.194},{"x":10745,"y":0.182},{"x":10885,"y":0.204},{"x":11025,"y":0.184},{"x":11165,"y":0.2},{"x":11305,"y":0.171},{"x":11445,"y":0.191},{"x":11585,"y":0.174},{"x":11725,"y":0.21},{"x":11865,"y":0.18},{"x":12005,"y":0.197},{"x":12145,"y":0.185},{"x":12285,"y":0.206},{"x":12425,"y":0.177},{"x":12565,"y":0.202},{"x":12705,"y":0.189},{"x":12845,"y":0.182},{"x":12985,"y":0.208},{"x":13125,"y":0.193},{"x":13265,"y":0.17},{"x":13405,"y":0.199},{"x":13545,"y":0.187},{"x":13685,"y":0.205},{"x":13825,"y":0.178},{"x":13965,"y":0.196},{"x":14105,"y":0.173},{"x":14245,"y":0.201},{"x":14385,"y":0.189},{"x":14525,"y":0.195},{"x":14665,"y":0.181},{"x":14805,"y":0.209},{"x":14945,"y":0.175},{"x":15085,"y":0.191},{"x":15225,"y":0.184},{"x":15365,"y":0.203},{"x":15505,"y":0.198},{"x":15645,"y":0.172},{"x":15785,"y":0.194},{"x":15925,"y":0.179},{"x":16065,"y":0.207},{"x":16205,"y":0.187},{"x":16345,"y":0.2},{"x":16485,"y":0.17},{"x":16625,"y":0.183},{"x":16765,"y":0.204},{"x":16905,"y":0.192},{"x":17045,"y":0.175},{"x":17185,"y":0.197},{"x":17325,"y":0.186},{"x":17465,"y":0.208},{"x":17605,"y":0.18},{"x":17745,"y":0.19},{"x":17885,"y":0.203},{"x":18025,"y":0.169},{"x":18165,"y":0.196},{"x":18305,"y":0.182},{"x":18445,"y":0.21},{"x":18585,"y":0.176},{"x":18725,"y":0.188},{"x":18865,"y":0.2},{"x":19005,"y":0.184},{"x":19145,"y":0.205},{"x":19285,"y":0.173},{"x":19425,"y":0.194},{"x":19565,"y":0.177},{"x":19705,"y":0.198},
{"x":35,"y":0.191},{"x":175,"y":0.177},{"x":315,"y":0.204},{"x":455,"y":0.173},{"x":595,"y":0.195},{"x":735,"y":0.183},{"x":875,"y":0.2},{"x":1015,"y":0.168},{"x":1155,"y":0.207},{"x":1295,"y":0.189},{"x":1435,"y":0.21},{"x":1575,"y":0.179},{"x":1715,"y":0.196},{"x":1855,"y":0.175},{"x":1995,"y":0.199},{"x":2135,"y":0.186},{"x":2275,"y":0.204},{"x":2415,"y":0.171},{"x":2555,"y":0.192},{"x":2695,"y":0.182},{"x":2835,"y":0.205},{"x":2975,"y":0.188},{"x":3115,"y":0.174},{"x":3255,"y":0.21},{"x":3395,"y":0.184},{"x":3535,"y":0.198},{"x":3675,"y":0.177},{"x":3815,"y":0.201},{"x":3955,"y":0.17},{"x":4095,"y":0.195},{"x":4235,"y":0.18},{"x":4375,"y":0.207},{"x":4515,"y":0.186},{"x":4655,"y":0.191},{"x":4795,"y":0.176},{"x":4935,"y":0.211},{"x":5075,"y":0.181},{"x":5215,"y":0.197},{"x":5355,"y":0.172},{"x":5495,"y":0.193},{"x":5635,"y":0.202},{"x":5775,"y":0.183},{"x":5915,"y":0.174},{"x":6055,"y":0.208},{"x":6195,"y":0.189},{"x":6335,"y":0.2},{"x":6475,"y":0.171},{"x":6615,"y":0.195},{"x":6755,"y":0.18},{"x":6895,"y":0.204},{"x":7035,"y":0.178},{"x":7175,"y":0.192},{"x":7315,"y":0.173},{"x":7455,"y":0.198},{"x":7595,"y":0.185},{"x":7735,"y":0.209},{"x":7875,"y":0.183},{"x":8015,"y":0.194},{"x":8155,"y":0.169},{"x":8295,"y":0.203},{"x":8435,"y":0.187},{"x":8575,"y":0.175},{"x":8715,"y":0.206},{"x":8855,"y":0.181},{"x":8995,"y":0.196},{"x":9135,"y":0.177},{"x":9275,"y":0.2},{"x":9415,"y":0.192},{"x":9555,"y":0.171},{"x":9695,"y":0.21},{"x":9835,"y":0.186},{"x":9975,"y":0.199},{"x":10115,"y":0.174},{"x":10255,"y":0.189},{"x":10395,"y":0.204},{"x":10535,"y":0.179},{"x":10675,"y":0.197},{"x":10815,"y":0.17},{"x":10955,"y":0.207},{"x":11095,"y":0.182},{"x":11235,"y":0.195},{"x":11375,"y":0.176},{"x":11515,"y":0.202},{"x":11655,"y":0.188},{"x":11795,"y":0.172},{"x":11935,"y":0.198},{"x":12075,"y":0.184},{"x":12215,"y":0.205},{"x":12355,"y":0.18},{"x":12495,"y":0.192},{"x":12635,"y":0.177},{"x":12775,"y":0.181},{"x":12915,"y":0.204},{"x":13055,"y":0.186},{"x":13195,"y":0.209},{"x":13335,"y":0.174},{"x":13475,"y":0.196},{"x":13615,"y":0.179},{"x":13755,"y":0.192},{"x":13895,"y":0.205},{"x":14035,"y":0.169},{"x":14175,"y":0.199},{"x":14315,"y":0.184},{"x":14455,"y":0.213},{"x":14595,"y":0.177},{"x":14735,"y":0.19},{"x":14875,"y":0.201},{"x":15015,"y":0.171},{"x":15155,"y":0.195},{"x":15295,"y":0.183},{"x":15435,"y":0.207},{"x":15575,"y":0.188},{"x":15715,"y":0.175},{"x":15855,"y":0.198},{"x":15995,"y":0.211},{"x":16135,"y":0.18},{"x":16275,"y":0.193},{"x":16415,"y":0.172},{"x":16555,"y":0.202},{"x":16695,"y":0.186},{"x":16835,"y":0.21},{"x":16975,"y":0.182},{"x":17115,"y":0.176},{"x":17255,"y":0.197},{"x":17395,"y":0.189},{"x":17535,"y":0.206},{"x":17675,"y":0.17},{"x":17815,"y":0.2},{"x":17955,"y":0.185},{"x":18095,"y":0.192},{"x":18235,"y":0.178},{"x":18375,"y":0.208},{"x":18515,"y":0.183},{"x":18655,"y":0.203},{"x":18795,"y":0.174},{"x":18935,"y":0.194},{"x":19075,"y":0.18},{"x":19215,"y":0.212},{"x":19355,"y":0.187},{"x":19495,"y":0.171},{"x":19635,"y":0.198}
],
"p4": [
{"x":0,"y":0.063},{"x":15,"y":0.19},{"x":40,"y":0.225},{"x":70,"y":0.175},{"x":110,"y":0.205},{"x":150,"y":0.215},{"x":200,"y":0.19},{"x":260,"y":0.235},{"x":320,"y":0.2},{"x":380,"y":0.165},{"x":440,"y":0.252},{"x":500,"y":0.21},{"x":570,"y":0.185},{"x":640,"y":0.225},{"x":710,"y":0.2},{"x":780,"y":0.24},{"x":850,"y":0.175},{"x":920,"y":0.215},{"x":990,"y":0.195},
{"x":1060,"y":0.255},{"x":1130,"y":0.205},{"x":1200,"y":0.185},{"x":1270,"y":0.23},{"x":1340,"y":0.21},{"x":1410,"y":0.175},{"x":1480,"y":0.148},{"x":1550,"y":0.225},{"x":1620,"y":0.195},{"x":1690,"y":0.272},{"x":1760,"y":0.215},{"x":1830,"y":0.165},{"x":1900,"y":0.245},{"x":1970,"y":0.2},
{"x":2040,"y":0.266},{"x":2110,"y":0.185},{"x":2180,"y":0.22},{"x":2250,"y":0.175},{"x":2320,"y":0.24},{"x":2390,"y":0.205},{"x":2460,"y":0.19},{"x":2530,"y":0.215},{"x":2600,"y":0.17},{"x":2670,"y":0.235},{"x":2740,"y":0.2},{"x":2810,"y":0.18},{"x":2880,"y":0.225},{"x":2950,"y":0.168},
{"x":3020,"y":0.21},{"x":3090,"y":0.245},{"x":3160,"y":0.26},{"x":3230,"y":0.195},{"x":3300,"y":0.225},{"x":3370,"y":0.18},{"x":3440,"y":0.215},{"x":3510,"y":0.26},{"x":3580,"y":0.2},{"x":3650,"y":0.155},{"x":3720,"y":0.22},{"x":3790,"y":0.19},{"x":3860,"y":0.235},{"x":3930,"y":0.175},
{"x":4000,"y":0.21},{"x":4070,"y":0.195},{"x":4140,"y":0.25},{"x":4210,"y":0.18},{"x":4280,"y":0.225},{"x":4350,"y":0.2},{"x":4420,"y":0.252},{"x":4490,"y":0.165},{"x":4560,"y":0.215},{"x":4630,"y":0.19},{"x":4700,"y":0.235},{"x":4770,"y":0.17},{"x":4840,"y":0.205},{"x":4910,"y":0.24},
{"x":4980,"y":0.185},{"x":5050,"y":0.16},{"x":5120,"y":0.22},{"x":5190,"y":0.28},{"x":5260,"y":0.195},{"x":5330,"y":0.21},{"x":5400,"y":0.175},{"x":5470,"y":0.146},{"x":5540,"y":0.23},{"x":5610,"y":0.2},{"x":5680,"y":0.185},{"x":5750,"y":0.253},{"x":5820,"y":0.215},{"x":5890,"y":0.143},
{"x":5960,"y":0.19},{"x":6030,"y":0.225},{"x":6100,"y":0.2},{"x":6170,"y":0.18},{"x":6240,"y":0.235},{"x":6310,"y":0.205},{"x":6380,"y":0.165},{"x":6450,"y":0.215},{"x":6520,"y":0.19},{"x":6590,"y":0.155},{"x":6660,"y":0.24},{"x":6730,"y":0.2},{"x":6800,"y":0.175},{"x":6870,"y":0.22},
{"x":6940,"y":0.256},{"x":7010,"y":0.195},{"x":7080,"y":0.21},{"x":7150,"y":0.17},{"x":7220,"y":0.23},{"x":7290,"y":0.185},{"x":7360,"y":0.205},{"x":7430,"y":0.245},{"x":7500,"y":0.19},{"x":7570,"y":0.215},{"x":7640,"y":0.165},{"x":7710,"y":0.256},{"x":7780,"y":0.2},{"x":7850,"y":0.143},
{"x":7920,"y":0.225},{"x":7990,"y":0.19},{"x":8060,"y":0.258},{"x":8130,"y":0.16},{"x":8200,"y":0.21},{"x":8270,"y":0.18},{"x":8340,"y":0.23},{"x":8410,"y":0.2},{"x":8480,"y":0.175},{"x":8550,"y":0.22},{"x":8620,"y":0.19},{"x":8690,"y":0.24},{"x":8760,"y":0.16},{"x":8830,"y":0.205},
{"x":8900,"y":0.185},{"x":8970,"y":0.225},{"x":9040,"y":0.195},{"x":9110,"y":0.215},{"x":9180,"y":0.17},{"x":9250,"y":0.235},{"x":9320,"y":0.2},{"x":9390,"y":0.18},{"x":9460,"y":0.21},{"x":9530,"y":0.245},{"x":9600,"y":0.19},{"x":9670,"y":0.165},{"x":9740,"y":0.225},{"x":9810,"y":0.261},
{"x":9880,"y":0.2},{"x":9950,"y":0.215},{"x":10020,"y":0.18},{"x":10090,"y":0.235},{"x":10160,"y":0.195},{"x":10230,"y":0.21},{"x":10300,"y":0.17},{"x":10370,"y":0.147},{"x":10440,"y":0.225},{"x":10510,"y":0.19},{"x":10580,"y":0.205},{"x":10650,"y":0.24},{"x":10720,"y":0.175},{"x":10790,"y":0.215},
{"x":10860,"y":0.195},{"x":10930,"y":0.23},{"x":11000,"y":0.185},{"x":11070,"y":0.21},{"x":11140,"y":0.155},{"x":11210,"y":0.2},{"x":11280,"y":0.24},{"x":11350,"y":0.19},{"x":11420,"y":0.225},{"x":11490,"y":0.175},{"x":11560,"y":0.215},{"x":11630,"y":0.2},{"x":11700,"y":0.235},{"x":11770,"y":0.18},
{"x":11840,"y":0.21},{"x":11910,"y":0.195},{"x":11980,"y":0.153},{"x":12050,"y":0.25},{"x":12120,"y":0.19},{"x":12190,"y":0.22},{"x":12260,"y":0.265},{"x":12330,"y":0.185},{"x":12400,"y":0.205},{"x":12470,"y":0.17},{"x":12540,"y":0.23},{"x":12610,"y":0.2},{"x":12680,"y":0.215},{"x":12750,"y":0.18},
{"x":12820,"y":0.245},{"x":12890,"y":0.195},{"x":12960,"y":0.21},{"x":13030,"y":0.17},{"x":13100,"y":0.225},{"x":13170,"y":0.19},{"x":13240,"y":0.255},{"x":13310,"y":0.2},{"x":13380,"y":0.175},{"x":13450,"y":0.215},{"x":13520,"y":0.185},{"x":13590,"y":0.23},{"x":13660,"y":0.2},{"x":13730,"y":0.165},
{"x":13800,"y":0.151},{"x":13870,"y":0.22},{"x":13940,"y":0.262},{"x":14010,"y":0.195},{"x":14080,"y":0.21},{"x":14150,"y":0.18},{"x":14220,"y":0.235},{"x":14290,"y":0.2},{"x":14360,"y":0.17},{"x":14430,"y":0.225},{"x":14500,"y":0.19},{"x":14570,"y":0.205},{"x":14640,"y":0.245},{"x":14710,"y":0.18},
{"x":14780,"y":0.271},{"x":14850,"y":0.152},{"x":14920,"y":0.215},{"x":14990,"y":0.195},{"x":15060,"y":0.23},{"x":15130,"y":0.2},{"x":15200,"y":0.175},{"x":15270,"y":0.22},{"x":15340,"y":0.19},{"x":15410,"y":0.24},{"x":15480,"y":0.205},{"x":15550,"y":0.16},{"x":15620,"y":0.225},{"x":15690,"y":0.195},
{"x":15760,"y":0.215},{"x":15830,"y":0.18},{"x":15900,"y":0.235},{"x":15970,"y":0.2},{"x":16040,"y":0.19},{"x":16110,"y":0.225},{"x":16180,"y":0.17},{"x":16250,"y":0.21},{"x":16320,"y":0.155},{"x":16390,"y":0.26},{"x":16460,"y":0.2},{"x":16530,"y":0.235},{"x":16600,"y":0.185},{"x":16670,"y":0.22},
{"x":16740,"y":0.195},{"x":16810,"y":0.24},{"x":16880,"y":0.268},{"x":16950,"y":0.18},{"x":17020,"y":0.21},{"x":17090,"y":0.137},{"x":17160,"y":0.225},{"x":17230,"y":0.17},{"x":17300,"y":0.2},{"x":17370,"y":0.245},{"x":17440,"y":0.185},{"x":17510,"y":0.215},{"x":17580,"y":0.175},{"x":17650,"y":0.23},
{"x":17720,"y":0.195},{"x":17790,"y":0.21},{"x":17860,"y":0.265},{"x":17930,"y":0.27},{"x":18000,"y":0.19},{"x":18070,"y":0.225},{"x":18140,"y":0.2},{"x":18210,"y":0.17},{"x":18280,"y":0.24},{"x":18350,"y":0.205},{"x":18420,"y":0.185},{"x":18490,"y":0.22},{"x":18560,"y":0.253},{"x":18630,"y":0.195},
{"x":18700,"y":0.147},{"x":18770,"y":0.14},{"x":18840,"y":0.21},{"x":18910,"y":0.175},{"x":18980,"y":0.23},{"x":19050,"y":0.2},{"x":19120,"y":0.17},{"x":19190,"y":0.255},{"x":19260,"y":0.215},{"x":19330,"y":0.19},{"x":19400,"y":0.235},{"x":19470,"y":0.2},{"x":19540,"y":0.175},{"x":19610,"y":0.25},
{"x":19680,"y":0.21},{"x":19750,"y":0.154},{"x":19820,"y":0.195},{"x":19890,"y":0.225},{"x":19960,"y":0.245},{"x":19990,"y":0.19},
{"x":105,"y":0.192},{"x":245,"y":0.21},{"x":385,"y":0.226},{"x":525,"y":0.187},{"x":665,"y":0.214},{"x":805,"y":0.2},{"x":945,"y":0.222},{"x":1085,"y":0.196},{"x":1225,"y":0.23},{"x":1365,"y":0.203},{"x":1505,"y":0.218},{"x":1645,"y":0.19},{"x":1785,"y":0.212},{"x":1925,"y":0.207},{"x":2065,"y":0.223},{"x":2205,"y":0.186},{"x":2345,"y":0.218},{"x":2485,"y":0.201},{"x":2625,"y":0.227},{"x":2765,"y":0.205},{"x":2905,"y":0.195},{"x":3045,"y":0.215},{"x":3185,"y":0.225},{"x":3325,"y":0.189},{"x":3465,"y":0.21},{"x":3605,"y":0.198},{"x":3745,"y":0.229},{"x":3885,"y":0.202},{"x":4025,"y":0.219},{"x":4165,"y":0.193},{"x":4305,"y":0.221},{"x":4445,"y":0.206},{"x":4585,"y":0.226},{"x":4725,"y":0.199},{"x":4865,"y":0.214},{"x":5005,"y":0.188},{"x":5145,"y":0.216},{"x":5285,"y":0.204},{"x":5425,"y":0.23},{"x":5565,"y":0.194},{"x":5705,"y":0.211},{"x":5845,"y":0.224},{"x":5985,"y":0.191},{"x":6125,"y":0.218},{"x":6265,"y":0.202},{"x":6405,"y":0.222},{"x":6545,"y":0.197},{"x":6685,"y":0.206},{"x":6825,"y":0.228},{"x":6965,"y":0.186},{"x":7105,"y":0.213},{"x":7245,"y":0.198},{"x":7385,"y":0.226},{"x":7525,"y":0.209},{"x":7665,"y":0.194},{"x":7805,"y":0.22},{"x":7945,"y":0.201},{"x":8085,"y":0.23},{"x":8225,"y":0.19},{"x":8365,"y":0.217},{"x":8505,"y":0.203},{"x":8645,"y":0.223},{"x":8785,"y":0.195},{"x":8925,"y":0.21},{"x":9065,"y":0.227},{"x":9205,"y":0.2},{"x":9345,"y":0.214},{"x":9485,"y":0.192},{"x":9625,"y":0.218},{"x":9765,"y":0.206},{"x":9905,"y":0.222},{"x":10045,"y":0.218},{"x":10185,"y":0.194},{"x":10325,"y":0.212},{"x":10465,"y":0.188},{"x":10605,"y":0.226},{"x":10745,"y":0.202},{"x":10885,"y":0.22},{"x":11025,"y":0.206},{"x":11165,"y":0.192},{"x":11305,"y":0.23},{"x":11445,"y":0.198},{"x":11585,"y":0.214},{"x":11725,"y":0.184},{"x":11865,"y":0.222},{"x":12005,"y":0.208},{"x":12145,"y":0.196},{"x":12285,"y":0.228},{"x":12425,"y":0.203},{"x":12565,"y":0.216},{"x":12705,"y":0.19},{"x":12845,"y":0.21},{"x":12985,"y":0.224},{"x":13125,"y":0.2},{"x":13265,"y":0.186},{"x":13405,"y":0.219},{"x":13545,"y":0.205},{"x":13685,"y":0.227},{"x":13825,"y":0.195},{"x":13965,"y":0.213},{"x":14105,"y":0.187},{"x":14245,"y":0.217},{"x":14385,"y":0.223},{"x":14525,"y":0.201},{"x":14665,"y":0.21},{"x":14805,"y":0.191},{"x":14945,"y":0.23},{"x":15085,"y":0.198},{"x":15225,"y":0.214},{"x":15365,"y":0.206},{"x":15505,"y":0.221},{"x":15645,"y":0.189},{"x":15785,"y":0.215},{"x":15925,"y":0.194},{"x":16065,"y":0.225},{"x":16205,"y":0.204},{"x":16345,"y":0.218},{"x":16485,"y":0.185},{"x":16625,"y":0.211},{"x":16765,"y":0.229},{"x":16905,"y":0.199},{"x":17045,"y":0.207},{"x":17185,"y":0.222},{"x":17325,"y":0.193},{"x":17465,"y":0.226},{"x":17605,"y":0.202},{"x":17745,"y":0.216},{"x":17885,"y":0.197},{"x":18025,"y":0.231},{"x":18165,"y":0.19},{"x":18305,"y":0.209},{"x":18445,"y":0.186},{"x":18585,"y":0.22},{"x":18725,"y":0.202},{"x":18865,"y":0.224},{"x":19005,"y":0.198},{"x":19145,"y":0.213},{"x":19285,"y":0.194},{"x":19425,"y":0.228},{"x":19565,"y":0.206},{"x":19705,"y":0.217},
{"x":35,"y":0.209},{"x":175,"y":0.194},{"x":315,"y":0.223},{"x":455,"y":0.19},{"x":595,"y":0.214},{"x":735,"y":0.2},{"x":875,"y":0.219},{"x":1015,"y":0.185},{"x":1155,"y":0.226},{"x":1295,"y":0.207},{"x":1435,"y":0.23},{"x":1575,"y":0.196},{"x":1715,"y":0.214},{"x":1855,"y":0.192},{"x":1995,"y":0.218},{"x":2135,"y":0.203},{"x":2275,"y":0.222},{"x":2415,"y":0.188},{"x":2555,"y":0.21},{"x":2695,"y":0.199},{"x":2835,"y":0.224},{"x":2975,"y":0.206},{"x":3115,"y":0.19},{"x":3255,"y":0.229},{"x":3395,"y":0.202},{"x":3535,"y":0.216},{"x":3675,"y":0.194},{"x":3815,"y":0.22},{"x":3955,"y":0.186},{"x":4095,"y":0.213},{"x":4235,"y":0.198},{"x":4375,"y":0.226},{"x":4515,"y":0.204},{"x":4655,"y":0.209},{"x":4795,"y":0.193},{"x":4935,"y":0.23},{"x":5075,"y":0.198},{"x":5215,"y":0.215},{"x":5355,"y":0.189},{"x":5495,"y":0.211},{"x":5635,"y":0.221},{"x":5775,"y":0.201},{"x":5915,"y":0.191},{"x":6055,"y":0.227},{"x":6195,"y":0.206},{"x":6335,"y":0.218},{"x":6475,"y":0.187},{"x":6615,"y":0.214},{"x":6755,"y":0.197},{"x":6895,"y":0.223},{"x":7035,"y":0.195},{"x":7175,"y":0.21},{"x":7315,"y":0.19},{"x":7455,"y":0.217},{"x":7595,"y":0.202},{"x":7735,"y":0.228},{"x":7875,"y":0.2},{"x":8015,"y":0.212},{"x":8155,"y":0.186},{"x":8295,"y":0.222},{"x":8435,"y":0.205},{"x":8575,"y":0.192},{"x":8715,"y":0.225},{"x":8855,"y":0.198},{"x":8995,"y":0.214},{"x":9135,"y":0.194},{"x":9275,"y":0.219},{"x":9415,"y":0.21},{"x":9555,"y":0.188},{"x":9695,"y":0.23},{"x":9835,"y":0.203},{"x":9975,"y":0.218},{"x":10115,"y":0.19},{"x":10255,"y":0.207},{"x":10395,"y":0.222},{"x":10535,"y":0.196},{"x":10675,"y":0.215},{"x":10815,"y":0.186},{"x":10955,"y":0.226},{"x":11095,"y":0.199},{"x":11235,"y":0.213},{"x":11375,"y":0.193},{"x":11515,"y":0.221},{"x":11655,"y":0.206},{"x":11795,"y":0.189},{"x":11935,"y":0.216},{"x":12075,"y":0.202},{"x":12215,"y":0.224},{"x":12355,"y":0.198},{"x":12495,"y":0.21},{"x":12635,"y":0.194},{"x":12775,"y":0.198},{"x":12915,"y":0.222},{"x":13055,"y":0.204},{"x":13195,"y":0.228},{"x":13335,"y":0.19},{"x":13475,"y":0.214},{"x":13615,"y":0.196},{"x":13755,"y":0.21},{"x":13895,"y":0.224},{"x":14035,"y":0.186},{"x":14175,"y":0.218},{"x":14315,"y":0.202},{"x":14455,"y":0.232},{"x":14595,"y":0.194},{"x":14735,"y":0.208},{"x":14875,"y":0.22},{"x":15015,"y":0.188},{"x":15155,"y":0.213},{"x":15295,"y":0.2},{"x":15435,"y":0.226},{"x":15575,"y":0.206},{"x":15715,"y":0.192},{"x":15855,"y":0.216},{"x":15995,"y":0.23},{"x":16135,"y":0.197},{"x":16275,"y":0.211},{"x":16415,"y":0.189},{"x":16555,"y":0.221},{"x":16695,"y":0.203},{"x":16835,"y":0.229},{"x":16975,"y":0.199},{"x":17115,"y":0.193},{"x":17255,"y":0.215},{"x":17395,"y":0.206},{"x":17535,"y":0.225},{"x":17675,"y":0.186},{"x":17815,"y":0.218},{"x":17955,"y":0.202},{"x":18095,"y":0.21},{"x":18235,"y":0.195},{"x":18375,"y":0.227},{"x":18515,"y":0.201},{"x":18655,"y":0.222},{"x":18795,"y":0.191},{"x":18935,"y":0.212},{"x":19075,"y":0.198},{"x":19215,"y":0.231},{"x":19355,"y":0.205},{"x":19495,"y":0.187},{"x":19635,"y":0.217}
],
"l1": [
{"x":0,"y":1.02},{"x":20,"y":1.15},{"x":60,"y":1.17},{"x":100,"y":1.177},{"x":200,"y":1.185},{"x":300,"y":1.192},{"x":500,"y":1.198},{"x":800,"y":1.2},{"x":1200,"y":1.2},{"x":2000,"y":1.199},{"x":3000,"y":1.197},{"x":4000,"y":1.197},{"x":5000,"y":1.196},{"x":6000,"y":1.197},{"x":7000,"y":1.197},{"x":8000,"y":1.197},{"x":9000,"y":1.198},{"x":10000,"y":1.199},{"x":11000,"y":1.199},{"x":12000,"y":1.197},{"x":13000,"y":1.197},{"x":14000,"y":1.197},{"x":15000,"y":1.197},{"x":16000,"y":1.197},{"x":17000,"y":1.196},{"x":18000,"y":1.196},{"x":19000,"y":1.196},{"x":20000,"y":1.196}
],
"l2": [
{"x":0,"y":1.06},{"x":20,"y":1.27},{"x":40,"y":1.36},{"x":70,"y":1.4},{"x":100,"y":1.42},{"x":150,"y":1.44},{"x":200,"y":1.455},{"x":300,"y":1.47},{"x":450,"y":1.485},{"x":600,"y":1.497},{"x":800,"y":1.51},{"x":1000,"y":1.52},{"x":1300,"y":1.53},{"x":1700,"y":1.54},{"x":2200,"y":1.546},{"x":2800,"y":1.548},{"x":3500,"y":1.546},{"x":4500,"y":1.545},{"x":5500,"y":1.543},{"x":6500,"y":1.541},{"x":7500,"y":1.54},{"x":8500,"y":1.541},{"x":9500,"y":1.543},{"x":10500,"y":1.544},{"x":11500,"y":1.544},{"x":12500,"y":1.543},{"x":13500,"y":1.543},{"x":14500,"y":1.544},{"x":15500,"y":1.544},{"x":16500,"y":1.544},{"x":17500,"y":1.544},{"x":18500,"y":1.545},{"x":19500,"y":1.545},{"x":20000,"y":1.545}
],
"l3": [
{"x":0,"y":0.232},{"x":5,"y":0.145},{"x":10,"y":0.2},{"x":20,"y":0.175},{"x":40,"y":0.19},{"x":70,"y":0.18},{"x":120,"y":0.186},{"x":250,"y":0.183},{"x":500,"y":0.186},{"x":1000,"y":0.188},{"x":1500,"y":0.189},{"x":2000,"y":0.19},{"x":4000,"y":0.19},{"x":8000,"y":0.19},{"x":12000,"y":0.19},{"x":16000,"y":0.19},{"x":20000,"y":0.19}
],
"l4": [
{"x":0,"y":0.232},{"x":5,"y":0.133},{"x":10,"y":0.2},{"x":20,"y":0.18},{"x":40,"y":0.198},{"x":80,"y":0.2},{"x":150,"y":0.202},{"x":300,"y":0.204},{"x":600,"y":0.206},{"x":1000,"y":0.207},{"x":1500,"y":0.208},{"x":3000,"y":0.208},{"x":6000,"y":0.208},{"x":10000,"y":0.208},{"x":14000,"y":0.208},{"x":18000,"y":0.208},{"x":20000,"y":0.208}
]
},
"concat": [
{"title": "Discrimination parameter item 3", "width": 370, "height": 220,
 "layer": [
  {"data": {"name": "p1"}, "mark": {"type": "square", "size": 6, "color": "black", "opacity": 1},
   "encoding": {
    "x": {"field": "x", "type": "quantitative", "scale": {"domain": [-800, 20800], "nice": false, "zero": false}, "axis": {"values": [0, 5000, 10000, 15000, 20000], "format": "d", "title": "Iteration"}},
    "y": {"field": "y", "type": "quantitative", "scale": {"domain": [1.01, 1.30], "nice": false, "zero": false}, "axis": {"values": [1.05, 1.10, 1.15, 1.20, 1.25, 1.30], "format": ".2f", "title": "Sampled/average parameter values"}}}},
  {"data": {"name": "l1"}, "mark": {"type": "line", "color": "black", "strokeWidth": 1.8},
   "encoding": {"x": {"field": "x", "type": "quantitative"}, "y": {"field": "y", "type": "quantitative"}}}
 ]},
{"title": "Discrimination parameter item 9", "width": 370, "height": 220,
 "layer": [
  {"data": {"name": "p2"}, "mark": {"type": "square", "size": 6, "color": "black", "opacity": 1},
   "encoding": {
    "x": {"field": "x", "type": "quantitative", "scale": {"domain": [-800, 20800], "nice": false, "zero": false}, "axis": {"values": [0, 5000, 10000, 15000, 20000], "format": "d", "title": "Iteration"}},
    "y": {"field": "y", "type": "quantitative", "scale": {"domain": [1.04, 1.713], "nice": false, "zero": false}, "axis": {"values": [1.1, 1.2, 1.3, 1.4, 1.5, 1.6, 1.7], "format": ".1f", "title": "Sampled/average parameter values"}}}},
  {"data": {"name": "l2"}, "mark": {"type": "line", "color": "black", "strokeWidth": 1.8},
   "encoding": {"x": {"field": "x", "type": "quantitative"}, "y": {"field": "y", "type": "quantitative"}}}
 ]},
{"title": "Difficulty parameter item 3", "width": 370, "height": 220,
 "layer": [
  {"data": {"name": "p3"}, "mark": {"type": "square", "size": 6, "color": "black", "opacity": 1},
   "encoding": {
    "x": {"field": "x", "type": "quantitative", "scale": {"domain": [-800, 20800], "nice": false, "zero": false}, "axis": {"values": [0, 5000, 10000, 15000, 20000], "format": "d", "title": "Iteration"}},
    "y": {"field": "y", "type": "quantitative", "scale": {"domain": [0.0484, 0.2586], "nice": false, "zero": false}, "axis": {"values": [0.05, 0.10, 0.15, 0.20, 0.25], "format": ".2f", "title": "Sampled/average parameter values"}}}},
  {"data": {"name": "l3"}, "mark": {"type": "line", "color": "black", "strokeWidth": 1.8},
   "encoding": {"x": {"field": "x", "type": "quantitative"}, "y": {"field": "y", "type": "quantitative"}}}
 ]},
{"title": "Difficulty parameter item 9", "width": 370, "height": 220,
 "layer": [
  {"data": {"name": "p4"}, "mark": {"type": "square", "size": 6, "color": "black", "opacity": 1},
   "encoding": {
    "x": {"field": "x", "type": "quantitative", "scale": {"domain": [-800, 20800], "nice": false, "zero": false}, "axis": {"values": [0, 5000, 10000, 15000, 20000], "format": "d", "title": "Iteration"}},
    "y": {"field": "y", "type": "quantitative", "scale": {"domain": [0.0545, 0.289], "nice": false, "zero": false}, "axis": {"values": [0.10, 0.15, 0.20, 0.25], "format": ".2f", "title": "Sampled/average parameter values"}}}},
  {"data": {"name": "l4"}, "mark": {"type": "line", "color": "black", "strokeWidth": 1.8},
   "encoding": {"x": {"field": "x", "type": "quantitative"}, "y": {"field": "y", "type": "quantitative"}}}
 ]}
],
"columns": 2,
"spacing": {"row": 131, "column": 87},
"bounds": "flush",
"config": {
 "view": {"stroke": "black", "strokeWidth": 2, "fill": "white"},
 "axis": {"grid": false, "domain": false, "ticks": true, "tickSize": 6, "tickColor": "black", "tickWidth": 1, "labelOverlap": false,
  "labelFont": "Liberation Sans", "labelFontSize": 12.5, "labelFontWeight": "bold", "labelColor": "black",
  "titleFont": "Liberation Sans", "titleFontSize": 17, "titleFontWeight": "normal", "titleColor": "#222"},
 "axisX": {"labelPadding": 11, "titlePadding": 9, "labelAngle": 0},
 "axisY": {"labelAngle": -90, "labelAlign": "center", "labelBaseline": "alphabetic", "labelPadding": 7.5,
  "titleX": -44, "titleY": 110, "titleAngle": -90, "titleAlign": "center", "titleBaseline": "middle"},
 "title": {"font": "Liberation Sans", "fontSize": 20, "fontWeight": "normal", "color": "#222", "anchor": "middle", "frame": "group", "baseline": "alphabetic", "offset": 6, "dx": -8}
}
}
